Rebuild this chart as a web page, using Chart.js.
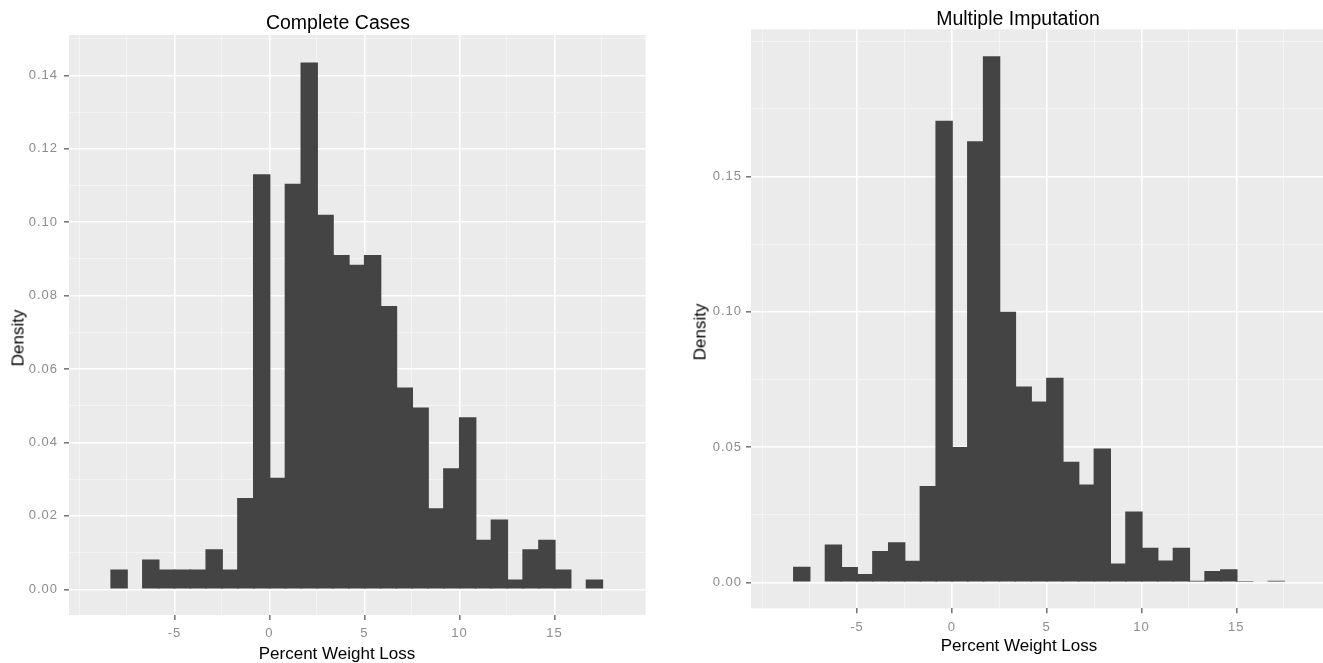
<!DOCTYPE html>
<html>
<head>
<meta charset="utf-8">
<script src="https://cdn.jsdelivr.net/npm/chart.js@4.4.1/dist/chart.umd.min.js"></script>
<style>
body { margin: 0; background: #fff; width: 1323px; height: 663px; overflow: hidden; position: relative; font-family: "Liberation Sans", Arial, sans-serif; }
canvas { position: absolute; top: 0; }
.lbl { position: absolute; white-space: nowrap; color: #000; line-height: 1; transform: translate(-50%, -50%); }
.title { font-size: 19.5px; }
.axis { font-size: 17px; }
.rot { transform: translate(-50%, -50%) rotate(-90deg); }
</style>
</head>
<body>
<canvas id="leftChart" width="662" height="663" style="left:0"></canvas>
<canvas id="rightChart" width="661" height="663" style="left:662px"></canvas>

<div class="lbl title" style="left:338px;top:23px">Complete Cases</div>
<div class="lbl title" style="left:1018px;top:19px">Multiple Imputation</div>
<div class="lbl axis" style="left:337px;top:653px">Percent Weight Loss</div>
<div class="lbl axis" style="left:1019px;top:645px">Percent Weight Loss</div>
<div class="lbl axis rot" style="left:18px;top:338px">Density</div>
<div class="lbl axis rot" style="left:700px;top:332px">Density</div>

<script>
// bin centres (Percent Weight Loss), same bins in both panels
var binCenters = [-7.913, -7.079, -6.245, -5.411, -4.577, -3.743, -2.909, -2.075, -1.241, -0.407,
    0.427, 1.261, 2.095, 2.929, 3.763, 4.597, 5.431, 6.265, 7.099, 7.933,
    8.767, 9.601, 10.435, 11.269, 12.103, 12.937, 13.771, 14.605, 15.439, 16.273, 17.107];

// density per bin
var completeCases = [0.0054, 0, 0.0081, 0.0054, 0.0054, 0.0054, 0.0109, 0.0054, 0.0249, 0.1131,
    0.0304, 0.1105, 0.1435, 0.1020, 0.0911, 0.0884, 0.0911, 0.0772, 0.0550, 0.0495,
    0.0221, 0.0330, 0.0469, 0.0135, 0.0190, 0.0027, 0.0109, 0.0135, 0.0054, 0, 0.0027];

var multipleImputation = [0.0058, 0, 0.0140, 0.0057, 0.0031, 0.0116, 0.0148, 0.0080, 0.0356, 0.1706,
    0.0500, 0.1630, 0.1944, 0.1000, 0.0724, 0.0668, 0.0756, 0.0446, 0.0362, 0.0495,
    0.0070, 0.0262, 0.0128, 0.0081, 0.0128, 0.0006, 0.0042, 0.0048, 0.0005, 0, 0.0006];

// tick / grid positions
var xMajor = [-5, 0, 5, 10, 15];
var xMinor = [-10, -7.5, -2.5, 2.5, 7.5, 12.5, 17.5];
var xLabels = ["-5", "0", "5", "10", "15"];

var leftYMajor = [0, 0.02, 0.04, 0.06, 0.08, 0.10, 0.12, 0.14];
var leftYMinor = [0.01, 0.03, 0.05, 0.07, 0.09, 0.11, 0.13, 0.15];
var leftYLabels = ["0.00", "0.02", "0.04", "0.06", "0.08", "0.10", "0.12", "0.14"];

var rightYMajor = [0, 0.05, 0.10, 0.15];
var rightYMinor = [0.025, 0.075, 0.125, 0.175, 0.20];
var rightYLabels = ["0.00", "0.05", "0.10", "0.15"];

var panelBg = {
    id: 'panelBg',
    beforeDraw: function (chart) {
        var a = chart.chartArea, c = chart.ctx;
        c.save();
        c.fillStyle = '#EBEBEB';
        c.fillRect(a.left, a.top, a.right - a.left, a.bottom - a.top);
        c.restore();
        c.letterSpacing = '1px';
    }
};

function axisOptions(major, minor, labels, lim, fit, pad) {
    var all = major.concat(minor).sort(function (a, b) { return a - b; });
    return {
        type: 'linear',
        min: lim[0],
        max: lim[1],
        offset: false,
        afterBuildTicks: function (s) { s.ticks = all.map(function (v) { return { value: v }; }); },
        afterFit: fit,
        border: { display: false },
        grid: {
            offset: false,
            drawTicks: true,
            tickLength: 5,
            color: function (ctx) { return major.indexOf(ctx.tick && ctx.tick.value) >= 0 ? '#FFFFFF' : '#F5F5F5'; },
            lineWidth: function (ctx) { return major.indexOf(ctx.tick && ctx.tick.value) >= 0 ? 1.6 : 0.9; },
            tickColor: function (ctx) { return major.indexOf(ctx.tick && ctx.tick.value) >= 0 ? '#7a7a7a' : 'rgba(0,0,0,0)'; }
        },
        ticks: {
            autoSkip: false,
            maxRotation: 0,
            padding: pad,
            color: '#8c8c8c',
            font: { family: '"Liberation Sans", Arial, sans-serif', size: 13 },
            callback: function (v) {
                var i = major.indexOf(v);
                return i >= 0 ? labels[i] : '';
            }
        }
    };
}

function makeChart(id, values, xLim, yLim, yMajor, yMinor, yLabels, layoutPad, yWidth, xHeight, yPad) {
    var ctx = document.getElementById(id).getContext('2d');
    return new Chart(ctx, {
        type: 'bar',
        data: {
            datasets: [{
                data: binCenters.map(function (c, i) { return { x: c, y: values[i] }; }),
                backgroundColor: '#444444',
                borderWidth: 0,
                inflateAmount: 0,
                barPercentage: 1.1,
                categoryPercentage: 1,
                grouped: false
            }]
        },
        options: {
            responsive: false,
            animation: false,
            layout: { padding: layoutPad },
            plugins: { legend: { display: false }, tooltip: { enabled: false } },
            scales: {
                x: axisOptions(xMajor, xMinor, xLabels, xLim, function (s) { s.height = xHeight; }, 6),
                y: axisOptions(yMajor, yMinor, yLabels, yLim, function (s) { s.width = yWidth; }, yPad)
            }
        },
        plugins: [panelBg]
    });
}

makeChart('leftChart', completeCases, [-10.55, 19.8], [-0.0070, 0.1510],
    leftYMajor, leftYMinor, leftYLabels, { left: 0, right: 16.4, top: 35, bottom: 0 }, 69, 48, 6);

makeChart('rightChart', multipleImputation, [-10.59, 19.57], [-0.0096, 0.2044],
    rightYMajor, rightYMinor, rightYLabels, { left: 0, right: 0, top: 29.3, bottom: 0 }, 89, 54.7, 4);
</script>
</body>
</html>
